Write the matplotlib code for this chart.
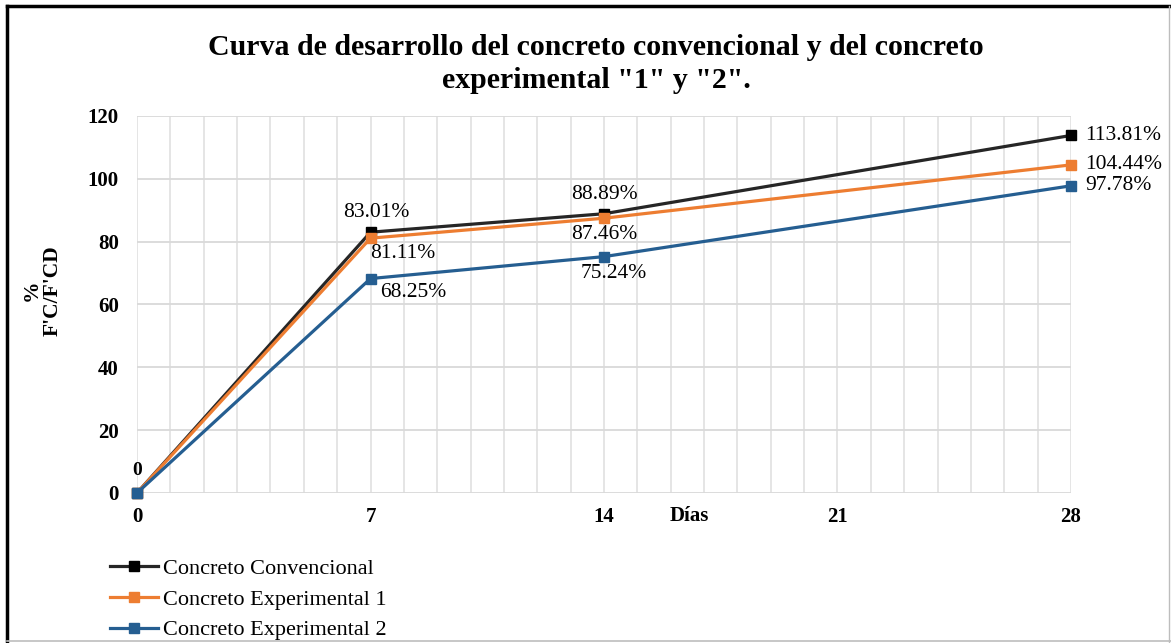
import matplotlib.pyplot as plt
from matplotlib.lines import Line2D

# edad del concreto (días) y resistencia relativa f'c / f'cd (%)
dias = [0, 7, 14, 28]
convencional = [0, 83.01, 88.89, 113.81]
experimental_1 = [0, 81.11, 87.46, 104.44]
experimental_2 = [0, 68.25, 75.24, 97.78]
series_nombres = ["Concreto Convencional", "Concreto Experimental 1", "Concreto Experimental 2"]
x_ticks = [0, 7, 14, 21, 28]
y_ticks = [0, 20, 40, 60, 80, 100, 120]

plt.rcParams['font.family'] = ['Liberation Serif', 'DejaVu Serif']

fig = plt.figure(figsize=(11.71, 6.43), dpi=100)
ax = fig.add_axes([0.117, 0.2333, 0.7976, 0.5863])

colores = ['#000000', '#ED7D31', '#255E91']
lineas = ['#262626', '#ED7D31', '#255E91']
datos = [convencional, experimental_1, experimental_2]

for vals, col, lcol, nombre in zip(datos, colores, lineas, series_nombres):
    ax.plot(dias, vals, color=lcol, lw=2.3, marker='s', ms=7,
            markerfacecolor=col, markeredgecolor=col, label=nombre,
            zorder=3, clip_on=False)

# etiquetas de datos
def etiqueta(x, y, txt, dx, dy, ha='center', va='center', fs=15.5, **kw):
    ax.annotate(txt, (x, y), xytext=(dx, dy), textcoords='offset points',
                ha=ha, va=va, fontsize=fs, annotation_clip=False, **kw)

etiqueta(0, 0, "0", 0, 16, fs=14, fontweight='bold')
etiqueta(7, convencional[1], f"{convencional[1]:.2f}%", 4, 14)
etiqueta(7, experimental_1[1], f"{experimental_1[1]:.2f}%", 23, -11)
etiqueta(7, experimental_2[1], f"{experimental_2[1]:.2f}%", 31, -10)
etiqueta(14, convencional[2], f"{convencional[2]:.2f}%", 0, 14)
etiqueta(14, experimental_1[2], f"{experimental_1[2]:.2f}%", 0, -12)
etiqueta(14, experimental_2[2], f"{experimental_2[2]:.2f}%", 7, -12)
for vals in datos:
    etiqueta(28, vals[3], f"{vals[3]:.2f}%", 10, 0, ha='left')

ax.set_xlim(0, 28)
ax.set_ylim(0, 120)
ax.set_xticks(x_ticks)
ax.set_xticks(range(0, 29), minor=True)
ax.set_yticks(y_ticks)
ax.grid(True, which='both', axis='x', color='#e3e3e3', lw=1.3, zorder=0)
ax.grid(True, which='major', axis='y', color='#d9d9d9', lw=1.3, zorder=0)
for s in ax.spines.values():
    s.set_visible(False)
ax.tick_params(which='both', length=0)
ax.tick_params(axis='x', pad=10, labelsize=15)
ax.tick_params(axis='y', pad=13, labelsize=15)
for t in ax.get_xticklabels() + ax.get_yticklabels():
    t.set_fontweight('bold')

fig.text(0.589, 0.198, "Días", ha='center', va='center', fontsize=15, fontweight='bold')
fig.text(0.036, 0.548, "%\nF'C/F'CD", rotation=90, ha='center', va='center',
         fontsize=15.5, fontweight='bold', linespacing=1.1)

fig.suptitle('Curva de desarrollo del concreto convencional y del concreto\nexperimental "1" y "2".',
             x=0.509, y=0.947, fontsize=21.5, fontweight='bold', linespacing=1.3)

handles = [Line2D([0], [0], color=l, lw=2.3, marker='s', ms=7,
                  markerfacecolor=c, markeredgecolor=c) for c, l in zip(colores, lineas)]
fig.legend(handles, series_nombres, loc='upper left', bbox_to_anchor=(0.086, 0.145),
           frameon=False, fontsize=16, handlelength=2.2, handletextpad=0.2,
           labelspacing=0.45, borderaxespad=0)

# marco de la figura
fig.add_artist(Line2D([0.0064, 0.0064], [0, 0.9905], color='black', lw=2.5, transform=fig.transFigure))
fig.add_artist(Line2D([0.0064, 1], [0.9905, 0.9905], color='black', lw=2.5, transform=fig.transFigure))
fig.add_artist(Line2D([0.998, 0.998], [0, 0.99], color='#bdbdbd', lw=1, transform=fig.transFigure))
fig.add_artist(Line2D([0.0064, 1], [0.003, 0.003], color='#bdbdbd', lw=1.2, transform=fig.transFigure))

fig.savefig("out.png", dpi=100)
